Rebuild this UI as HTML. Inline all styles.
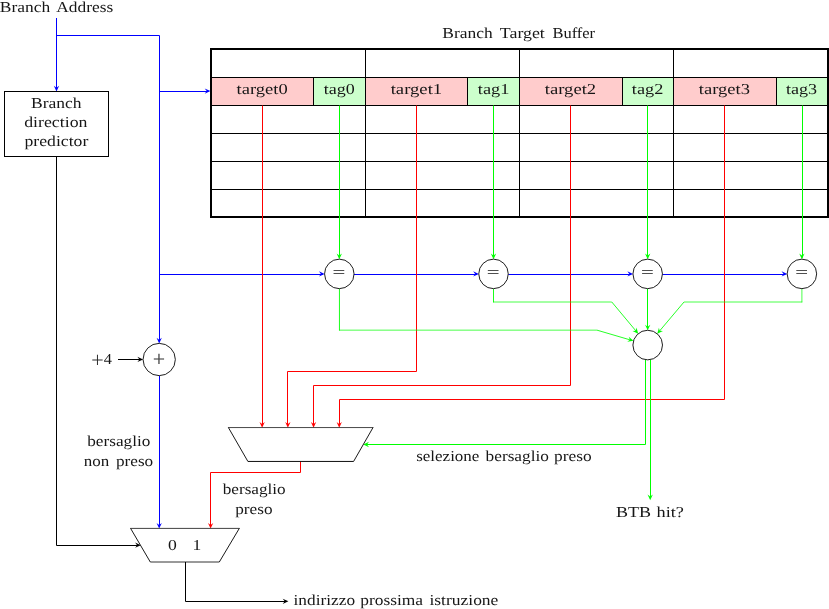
<!DOCTYPE html>
<html lang="it">
<head>
<meta charset="utf-8">
<title>Branch Target Buffer</title>
<style>
html, body { margin: 0; padding: 0; background: #ffffff; }
body { width: 829px; height: 609px; overflow: hidden; }
svg { display: block; will-change: transform; font-family: "Liberation Serif", "DejaVu Serif", serif; }
</style>
</head>
<body>
<svg width="829" height="609" viewBox="0 0 829 609">
<rect x="0" y="0" width="829" height="609" fill="#ffffff"/>
<rect x="211" y="77.5" width="102.5" height="28" fill="#ffcccc"/>
<rect x="313.5" y="77.5" width="52" height="28" fill="#ccffcc"/>
<path d="M313.5,77.5 L313.5,105.5" fill="none" stroke="#000000" stroke-width="1"/>
<rect x="365.5" y="77.5" width="102" height="28" fill="#ffcccc"/>
<rect x="467.5" y="77.5" width="52" height="28" fill="#ccffcc"/>
<path d="M467.5,77.5 L467.5,105.5" fill="none" stroke="#000000" stroke-width="1"/>
<rect x="519.5" y="77.5" width="103" height="28" fill="#ffcccc"/>
<rect x="622.5" y="77.5" width="51" height="28" fill="#ccffcc"/>
<path d="M622.5,77.5 L622.5,105.5" fill="none" stroke="#000000" stroke-width="1"/>
<rect x="673.5" y="77.5" width="103" height="28" fill="#ffcccc"/>
<rect x="776.5" y="77.5" width="51.5" height="28" fill="#ccffcc"/>
<path d="M776.5,77.5 L776.5,105.5" fill="none" stroke="#000000" stroke-width="1"/>
<path d="M211,77.5 L828,77.5" fill="none" stroke="#000000" stroke-width="1"/>
<path d="M211,105.5 L828,105.5" fill="none" stroke="#000000" stroke-width="1"/>
<path d="M211,133.5 L828,133.5" fill="none" stroke="#000000" stroke-width="1"/>
<path d="M211,161.5 L828,161.5" fill="none" stroke="#000000" stroke-width="1"/>
<path d="M211,189.5 L828,189.5" fill="none" stroke="#000000" stroke-width="1"/>
<path d="M365.5,49 L365.5,217" fill="none" stroke="#000000" stroke-width="1"/>
<path d="M519.5,49 L519.5,217" fill="none" stroke="#000000" stroke-width="1"/>
<path d="M673.5,49 L673.5,217" fill="none" stroke="#000000" stroke-width="1"/>
<rect x="211" y="49" width="617" height="168" fill="none" stroke="#000" stroke-width="2"/>
<path d="M56.5,18 L56.5,36" fill="none" stroke="#0000ff" stroke-width="1"/>
<path d="M56.5,35 L56.5,89.4" fill="none" stroke="#0000ff" stroke-width="1"/>
<path transform="translate(56.5,91) rotate(90)" d="M0.4,0 L-5.3,-2.65 L-3.3,0 L-5.3,2.65 Z" fill="#0000ff"/>
<path d="M56.5,35.5 L159.5,35.5 L159.5,92" fill="none" stroke="#0000ff" stroke-width="1"/>
<path d="M159.5,91.5 L208.4,91.5" fill="none" stroke="#0000ff" stroke-width="1"/>
<path transform="translate(210,91.1) rotate(0)" d="M0.4,0 L-5.3,-2.65 L-3.3,0 L-5.3,2.65 Z" fill="#0000ff"/>
<path d="M159.5,91 L159.5,275" fill="none" stroke="#0000ff" stroke-width="1"/>
<path d="M159.5,274.5 L322.65,274.5" fill="none" stroke="#0000ff" stroke-width="1"/>
<path transform="translate(324.25,273.9) rotate(0)" d="M0.4,0 L-5.3,-2.65 L-3.3,0 L-5.3,2.65 Z" fill="#0000ff"/>
<path d="M159.5,274 L159.5,341.45" fill="none" stroke="#0000ff" stroke-width="1"/>
<path transform="translate(159.2,343.05) rotate(90)" d="M0.4,0 L-5.3,-2.65 L-3.3,0 L-5.3,2.65 Z" fill="#0000ff"/>
<path d="M354.05,274.5 L476.85,274.5" fill="none" stroke="#0000ff" stroke-width="1"/>
<path transform="translate(478.45,273.9) rotate(0)" d="M0.4,0 L-5.3,-2.65 L-3.3,0 L-5.3,2.65 Z" fill="#0000ff"/>
<path d="M508.25,274.5 L631.05,274.5" fill="none" stroke="#0000ff" stroke-width="1"/>
<path transform="translate(632.65,273.9) rotate(0)" d="M0.4,0 L-5.3,-2.65 L-3.3,0 L-5.3,2.65 Z" fill="#0000ff"/>
<path d="M662.45,274.5 L785.25,274.5" fill="none" stroke="#0000ff" stroke-width="1"/>
<path transform="translate(786.85,273.9) rotate(0)" d="M0.4,0 L-5.3,-2.65 L-3.3,0 L-5.3,2.65 Z" fill="#0000ff"/>
<path d="M159.5,375.65 L159.5,526.8" fill="none" stroke="#0000ff" stroke-width="1"/>
<path transform="translate(159.2,528.2) rotate(90)" d="M0.4,0 L-5.3,-2.65 L-3.3,0 L-5.3,2.65 Z" fill="#0000ff"/>
<path d="M262.5,105.5 L262.5,425.95" fill="none" stroke="#ff0000" stroke-width="1"/>
<path transform="translate(262.15,427.35) rotate(90)" d="M0.4,0 L-5.3,-2.65 L-3.3,0 L-5.3,2.65 Z" fill="#ff0000"/>
<path d="M416.5,105.5 L416.5,371.5 L287.5,371.5 L287.5,425.95" fill="none" stroke="#ff0000" stroke-width="1"/>
<path transform="translate(287.85,427.35) rotate(90)" d="M0.4,0 L-5.3,-2.65 L-3.3,0 L-5.3,2.65 Z" fill="#ff0000"/>
<path d="M570.5,105.5 L570.5,385.5 L313.5,385.5 L313.5,425.95" fill="none" stroke="#ff0000" stroke-width="1"/>
<path transform="translate(313.55,427.35) rotate(90)" d="M0.4,0 L-5.3,-2.65 L-3.3,0 L-5.3,2.65 Z" fill="#ff0000"/>
<path d="M724.5,105.5 L724.5,399.5 L339.5,399.5 L339.5,425.95" fill="none" stroke="#ff0000" stroke-width="1"/>
<path transform="translate(339.25,427.35) rotate(90)" d="M0.4,0 L-5.3,-2.65 L-3.3,0 L-5.3,2.65 Z" fill="#ff0000"/>
<path d="M300.5,461.45 L300.5,472.5 L210.5,472.5 L210.5,526.8" fill="none" stroke="#ff0000" stroke-width="1"/>
<path transform="translate(210.6,528.2) rotate(90)" d="M0.4,0 L-5.3,-2.65 L-3.3,0 L-5.3,2.65 Z" fill="#ff0000"/>
<path d="M339.5,105.5 L339.5,257.55" fill="none" stroke="#00ff00" stroke-width="1"/>
<path transform="translate(339.3,258.85) rotate(90)" d="M0.4,0 L-5.3,-2.65 L-3.3,0 L-5.3,2.65 Z" fill="#00ff00"/>
<path d="M493.5,105.5 L493.5,257.55" fill="none" stroke="#00ff00" stroke-width="1"/>
<path transform="translate(493.5,258.85) rotate(90)" d="M0.4,0 L-5.3,-2.65 L-3.3,0 L-5.3,2.65 Z" fill="#00ff00"/>
<path d="M647.5,105.5 L647.5,257.55" fill="none" stroke="#00ff00" stroke-width="1"/>
<path transform="translate(647.7,258.85) rotate(90)" d="M0.4,0 L-5.3,-2.65 L-3.3,0 L-5.3,2.65 Z" fill="#00ff00"/>
<path d="M802.5,105.5 L802.5,257.55" fill="none" stroke="#00ff00" stroke-width="1"/>
<path transform="translate(801.9,258.85) rotate(90)" d="M0.4,0 L-5.3,-2.65 L-3.3,0 L-5.3,2.65 Z" fill="#00ff00"/>
<path d="M339.45,288.65 L339.45,330.51" fill="none" stroke="#00ff00" stroke-width="0.9"/>
<path d="M339,330.15 L597,330.15" fill="none" stroke="#00ff00" stroke-width="0.72"/>
<path d="M597,330.15 L631.534,340.299" fill="none" stroke="#00ff00" stroke-width="0.85"/>
<path transform="translate(633.069,340.75) rotate(16.3773)" d="M0.4,0 L-5.3,-2.65 L-3.3,0 L-5.3,2.65 Z" fill="#00ff00"/>
<path d="M493.5,288.65 L493.5,302.36" fill="none" stroke="#00ff00" stroke-width="0.9"/>
<path d="M493.05,302 L611.8,302" fill="none" stroke="#00ff00" stroke-width="0.72"/>
<path d="M611.8,302 L636.908,332.109" fill="none" stroke="#00ff00" stroke-width="0.85"/>
<path transform="translate(637.933,333.338) rotate(50.1748)" d="M0.4,0 L-5.3,-2.65 L-3.3,0 L-5.3,2.65 Z" fill="#00ff00"/>
<path d="M801.9,288.65 L801.9,302.36" fill="none" stroke="#00ff00" stroke-width="0.72"/>
<path d="M802.26,302 L684,302" fill="none" stroke="#00ff00" stroke-width="0.72"/>
<path d="M684,302 L658.562,332.168" fill="none" stroke="#00ff00" stroke-width="0.85"/>
<path transform="translate(657.531,333.391) rotate(130.138)" d="M0.4,0 L-5.3,-2.65 L-3.3,0 L-5.3,2.65 Z" fill="#00ff00"/>
<path d="M647.5,288.65 L647.5,328.65" fill="none" stroke="#00ff00" stroke-width="1"/>
<path transform="translate(647.7,329.95) rotate(90)" d="M0.4,0 L-5.3,-2.65 L-3.3,0 L-5.3,2.65 Z" fill="#00ff00"/>
<path d="M645.5,359.55 L645.5,444.5 L365.6,444.5" fill="none" stroke="#00ff00" stroke-width="1"/>
<path transform="translate(363.7,444.5) rotate(180)" d="M0.4,0 L-5.3,-2.65 L-3.3,0 L-5.3,2.65 Z" fill="#00ff00"/>
<path d="M650.5,359.55 L650.5,498.2" fill="none" stroke="#00ff00" stroke-width="1"/>
<path transform="translate(650.2,499.8) rotate(90)" d="M0.4,0 L-5.3,-2.65 L-3.3,0 L-5.3,2.65 Z" fill="#00ff00"/>
<path d="M56.5,156 L56.5,545.5 L138.7,545.5" fill="none" stroke="#000000" stroke-width="1"/>
<path transform="translate(140.4,545.2) rotate(0)" d="M0.4,0 L-5.3,-2.65 L-3.3,0 L-5.3,2.65 Z" fill="#000000"/>
<path d="M118,359.5 L141.1,359.5" fill="none" stroke="#000000" stroke-width="1"/>
<path transform="translate(142.7,359.4) rotate(0)" d="M0.4,0 L-5.3,-2.65 L-3.3,0 L-5.3,2.65 Z" fill="#000000"/>
<path d="M185.5,562 L185.5,601.5 L286.4,601.5" fill="none" stroke="#000000" stroke-width="1"/>
<path transform="translate(288,601.3) rotate(0)" d="M0.4,0 L-5.3,-2.65 L-3.3,0 L-5.3,2.65 Z" fill="#000000"/>
<rect x="4.5" y="91.5" width="104" height="65" fill="#fff" stroke="#000" stroke-width="1"/>
<circle cx="339.3" cy="273.9" r="14.75" fill="#fff" stroke="#000" stroke-width="0.88"/>
<circle cx="493.5" cy="273.9" r="14.75" fill="#fff" stroke="#000" stroke-width="0.88"/>
<circle cx="647.7" cy="273.9" r="14.75" fill="#fff" stroke="#000" stroke-width="0.88"/>
<circle cx="801.9" cy="273.9" r="14.75" fill="#fff" stroke="#000" stroke-width="0.88"/>
<circle cx="647.7" cy="345.05" r="14.8" fill="#fff" stroke="#000" stroke-width="0.88"/>
<circle cx="159.2" cy="359.5" r="16.15" fill="#fff" stroke="#000" stroke-width="0.88"/>
<path d="M228.4,427.55 L373,427.55 L353.6,461.45 L247.9,461.45 Z" fill="#fff"/>
<path d="M228.1,427.55 L373.3,427.55" fill="none" stroke="#000000" stroke-width="0.72"/>
<path d="M247.9,461.45 L353.6,461.45" fill="none" stroke="#000000" stroke-width="0.95"/>
<path d="M228.4,427.55 L247.9,461.45" fill="none" stroke="#000000" stroke-width="0.9"/>
<path d="M373,427.55 L353.6,461.45" fill="none" stroke="#000000" stroke-width="0.9"/>
<path d="M130.6,528.4 L239.3,528.4 L219.3,562 L150.3,562 Z" fill="#fff"/>
<path d="M130.3,528.4 L239.6,528.4" fill="none" stroke="#000000" stroke-width="0.75"/>
<path d="M150.3,562 L219.3,562" fill="none" stroke="#000000" stroke-width="0.8"/>
<path d="M130.6,528.4 L150.3,562" fill="none" stroke="#000000" stroke-width="0.9"/>
<path d="M239.3,528.4 L219.3,562" fill="none" stroke="#000000" stroke-width="0.9"/>
<g fill="#161616" font-size="15.2" style="text-rendering:geometricPrecision">
<text><tspan x="-0.22" y="11.8" textLength="50.35" lengthAdjust="spacingAndGlyphs">Branch</tspan> <tspan x="56.33" y="11.8" textLength="56.92" lengthAdjust="spacingAndGlyphs">Address</tspan></text>
<text><tspan x="442.28" y="37.6" textLength="50.35" lengthAdjust="spacingAndGlyphs">Branch</tspan> <tspan x="499.84" y="37.6" textLength="44.97" lengthAdjust="spacingAndGlyphs">Target</tspan> <tspan x="552.41" y="37.6" textLength="42.71" lengthAdjust="spacingAndGlyphs">Buffer</tspan></text>
<text><tspan x="30.97" y="107.7" textLength="50.55" lengthAdjust="spacingAndGlyphs">Branch</tspan> <tspan x="24.18" y="126.9" textLength="63.28" lengthAdjust="spacingAndGlyphs">direction</tspan> <tspan x="24.53" y="146.4" textLength="63.83" lengthAdjust="spacingAndGlyphs">predictor</tspan></text>
<text><tspan x="87.25" y="445.8" textLength="63.05" lengthAdjust="spacingAndGlyphs">bersaglio</tspan> <tspan x="83.78" y="466" textLength="25.48" lengthAdjust="spacingAndGlyphs">non</tspan> <tspan x="115.94" y="466" textLength="37.28" lengthAdjust="spacingAndGlyphs">preso</tspan></text>
<text><tspan x="222.70" y="493.7" textLength="63.00" lengthAdjust="spacingAndGlyphs">bersaglio</tspan> <tspan x="235.24" y="513.8" textLength="37.28" lengthAdjust="spacingAndGlyphs">preso</tspan></text>
<text><tspan x="416.22" y="461.1" textLength="63.18" lengthAdjust="spacingAndGlyphs">selezione</tspan> <tspan x="485.60" y="461.1" textLength="63.30" lengthAdjust="spacingAndGlyphs">bersaglio</tspan> <tspan x="554.14" y="461.1" textLength="37.59" lengthAdjust="spacingAndGlyphs">preso</tspan></text>
<text><tspan x="615.96" y="516.9" textLength="35.04" lengthAdjust="spacingAndGlyphs">BTB</tspan> <tspan x="656.52" y="516.9" textLength="27.41" lengthAdjust="spacingAndGlyphs">hit?</tspan></text>
<text><tspan x="293.55" y="605" textLength="61.53" lengthAdjust="spacingAndGlyphs">indirizzo</tspan> <tspan x="360.24" y="605" textLength="62.85" lengthAdjust="spacingAndGlyphs">prossima</tspan> <tspan x="429.45" y="605" textLength="68.93" lengthAdjust="spacingAndGlyphs">istruzione</tspan></text>
<text><tspan x="167.90" y="549.9" textLength="8.81" lengthAdjust="spacingAndGlyphs">0</tspan> <tspan x="192.63" y="549.9" textLength="8.71" lengthAdjust="spacingAndGlyphs">1</tspan></text>
<text><tspan x="236.61" y="94.1" textLength="51.10" lengthAdjust="spacingAndGlyphs">target0</tspan></text>
<text><tspan x="323.72" y="94.1" textLength="31.04" lengthAdjust="spacingAndGlyphs">tag0</tspan></text>
<text><tspan x="390.69" y="94.1" textLength="51.48" lengthAdjust="spacingAndGlyphs">target1</tspan></text>
<text><tspan x="477.80" y="94.1" textLength="31.51" lengthAdjust="spacingAndGlyphs">tag1</tspan></text>
<text><tspan x="544.77" y="94.1" textLength="51.38" lengthAdjust="spacingAndGlyphs">target2</tspan></text>
<text><tspan x="631.88" y="94.1" textLength="31.42" lengthAdjust="spacingAndGlyphs">tag2</tspan></text>
<text><tspan x="698.85" y="94.1" textLength="51.10" lengthAdjust="spacingAndGlyphs">target3</tspan></text>
<text><tspan x="785.96" y="94.1" textLength="31.14" lengthAdjust="spacingAndGlyphs">tag3</tspan></text>
<text><tspan x="90.80" y="365.05" font-family="DejaVu Sans, sans-serif" font-weight="200" font-size="16" fill="#111111" stroke="#111111" stroke-width="0.2">+</tspan><tspan x="103.77" y="364" textLength="8.17" lengthAdjust="spacingAndGlyphs">4</tspan></text>
</g>
<g fill="#111111" font-family="DejaVu Sans, sans-serif" font-weight="200" style="text-rendering:geometricPrecision">
<text font-size="17.1" transform="translate(331.84,277.953) scale(1,1.114)">=</text>
<text font-size="17.1" transform="translate(486.04,277.953) scale(1,1.114)">=</text>
<text font-size="17.1" transform="translate(640.24,277.953) scale(1,1.114)">=</text>
<text font-size="17.1" transform="translate(794.44,277.953) scale(1,1.114)">=</text>
<text font-size="16" x="152.30" y="364.05" stroke="#111111" stroke-width="0.2">+</text>
</g>
</svg>
</body>
</html>
